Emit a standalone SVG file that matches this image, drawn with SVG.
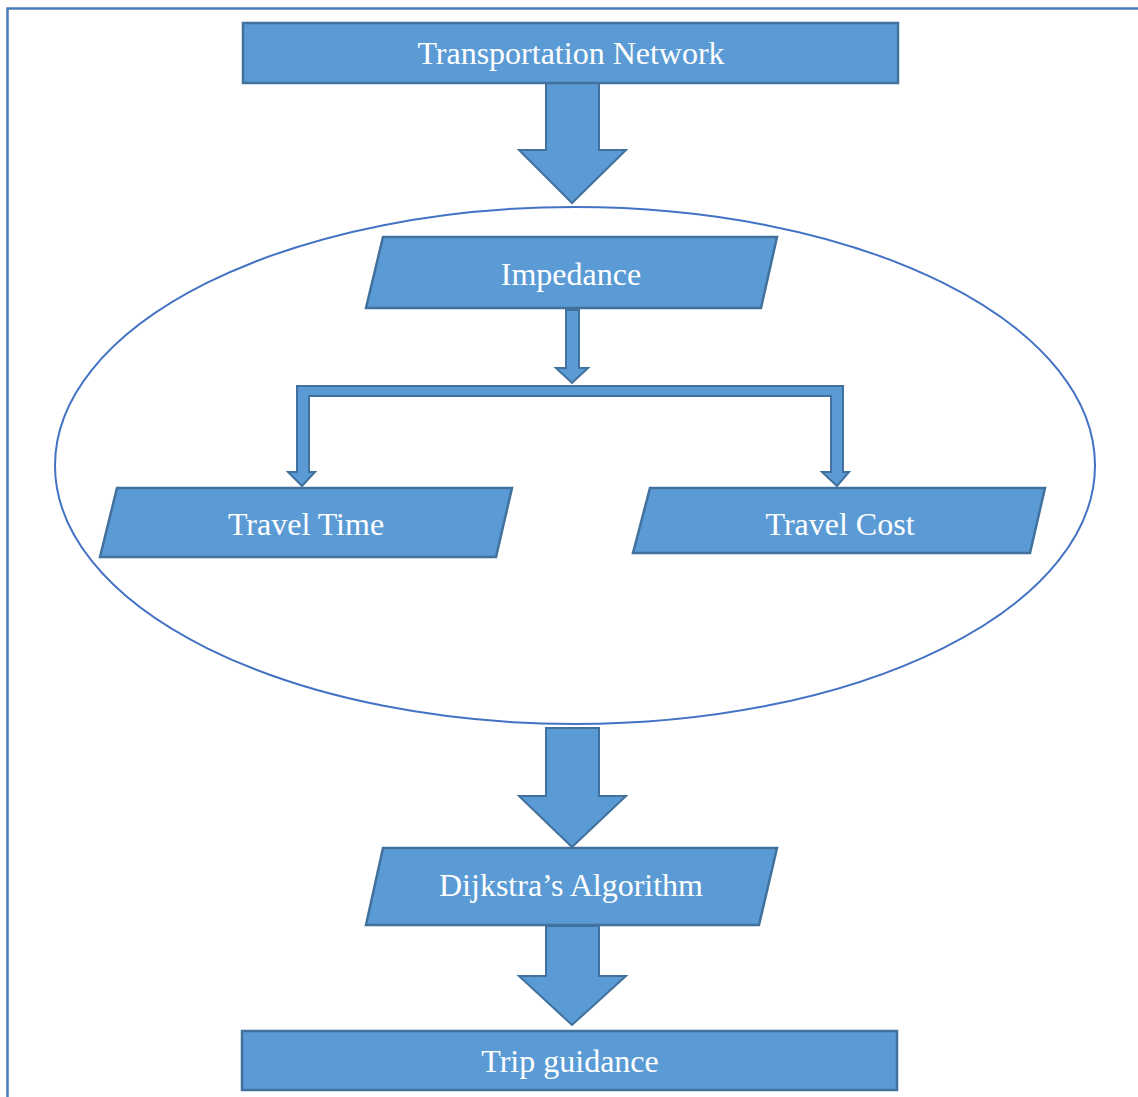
<svg xmlns="http://www.w3.org/2000/svg" width="1138" height="1097" viewBox="0 0 1138 1097">
<style>
.box{fill:#5B9BD5;stroke:#41719C;stroke-width:2.5}
.arr{fill:#5B9BD5;stroke:#41719C;stroke-width:2;stroke-linejoin:miter}
.lbl{font-family:"Liberation Serif","Times New Roman",serif;font-size:32px;fill:#FFFFFF;text-anchor:middle}
</style>
<rect width="1138" height="1097" fill="#FFFFFF"/>
<path d="M7.5 1097 V8.5 H1138" fill="none" stroke="#4A7EBB" stroke-width="2.5"/>
<g id="boundary">
<ellipse cx="575" cy="465.5" rx="520" ry="258.5" fill="none" stroke="#4472C4" stroke-width="2"/>
</g>
<g id="connectors">
<polygon class="arr" points="546,83 599,83 599,150 626,150 572,203 519,150 546,150"/>
<polygon class="arr" points="566,310 579,310 579,368 588,368 572,383 556,368 566,368"/>
<polygon class="arr" points="297,386 843,386 843,472 849,472 837,486 822,472 831,472 831,396 309,396 309,472 315,472 302,486 288,472 297,472"/>
<polygon class="arr" points="546,728 599,728 599,796 626,796 572,847 519,796 546,796"/>
<polygon class="arr" points="546,926 599,926 599,976 626,976 572,1025 519,976 546,976"/>
</g>
<g id="transportation-network">
<rect class="box" x="243" y="23" width="655" height="60"/>
<text class="lbl" x="571" y="64">Transportation Network</text>
</g>
<g id="impedance">
<polygon class="box" points="383,237 777,237 761,308 366,308"/>
<text class="lbl" x="571" y="285">Impedance</text>
</g>
<g id="travel-time">
<polygon class="box" points="117,488 512,488 496,557 100,557"/>
<text class="lbl" x="306" y="535">Travel Time</text>
</g>
<g id="travel-cost">
<polygon class="box" points="650,488 1045,488 1030,553 633,553"/>
<text class="lbl" x="840" y="535">Travel Cost</text>
</g>
<g id="dijkstra">
<polygon class="box" points="383,848 777,848 759,925 366,925"/>
<text class="lbl" x="571" y="896">Dijkstra’s Algorithm</text>
</g>
<g id="trip-guidance">
<rect class="box" x="242" y="1031" width="655" height="59"/>
<text class="lbl" x="570" y="1072">Trip guidance</text>
</g>
</svg>
